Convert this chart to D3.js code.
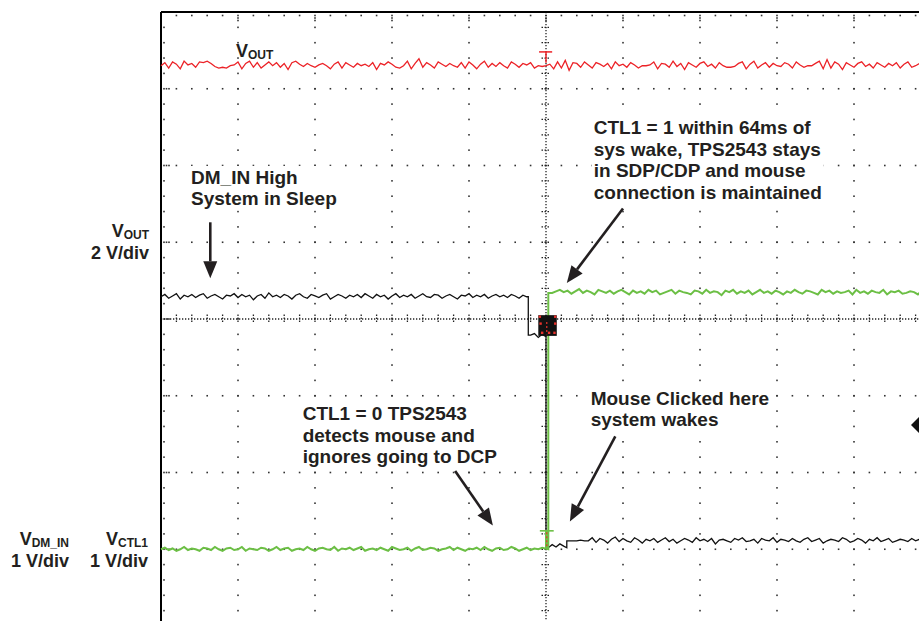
<!DOCTYPE html>
<html>
<head>
<meta charset="utf-8">
<script src="https://cdn.jsdelivr.net/npm/d3@7"></script>
<style>
  body { margin: 0; background: #fff; }
  svg { display: block; font-family: "Liberation Sans", Arial, sans-serif; font-weight: bold; }
</style>
</head>
<body>
<svg id="scope" width="919" height="621"></svg>
<script>
// scope screen in divisions: 10 across, 8 high, centre = 0
var timeDivs = [0, 10];
var voltDivs = [-4, 4];
var sampleStep = 0.05;

// trace levels (divisions) and switching times (divisions)
var voutLevel = 3.30;
var dmHighLevel = 0.29, dmMidLevel = -0.21, dmLowLevel = -2.98, dmWakeLevel = -2.89;
var ctlLowLevel = -3.00, ctlHighLevel = 0.34;
var dmDropTime = 4.77, wakeTime = 5.0, ctlRiseTime = 5.03, dmStepTime = 5.27;

// noise, in 1/100 div
var voutNoise = [
  0,4,-3,5,2,-4,6,1,3,-2,5,4,6,3,-1,-3,-2,-3,0,1,
  5,-4,3,6,-2,4,-3,1,5,0,4,-2,3,-5,4,6,2,-1,3,0,
  -2,1,3,0,-4,2,5,-3,4,1,-2,3,0,2,-1,4,-5,3,1,5,
  2,-2,-3,0,6,-4,3,9,-2,4,1,-3,5,2,-1,3,0,-2,4,-3,
  5,1,-4,2,6,-2,3,-1,4,0,-3,5,2,-2,3,1,4,-3,0,-1,
  0,2,-4,5,-3,7,-6,4,3,-2,5,1,-3,4,2,-1,3,-4,5,0,
  2,-2,4,1,-3,0,0,1,5,-4,3,2,-2,6,-1,3,-5,4,1,-2,
  3,5,-1,2,-3,4,0,-2,-2,-1,3,5,-4,2,6,-3,1,4,-2,3,
  0,-1,4,2,-3,5,1,-2,0,0,3,6,-4,8,-3,5,2,-5,4,1,
  -2,3,5,-1,2,-3,4,1,-2,3,0,4,-3,2,5,-2,0,3,-4,2,
  1,4,-1,3,-2,0
];
var dmHighNoise = [
  0,3,-2,1,4,-3,2,0,3,-1,2,4,-2,1,3,0,-3,2,1,4,
  -1,3,0,2,-4,1,3,-2,5,0,2,-1,3,1,-3,2,4,0,-2,3,
  1,-1,2,4,-3,0,3,1,-2,2,0,3,-1,4,1,-2,3,0,2,-3,
  1,4,-1,2,0,3,-2,1,4,0,-1,3,2,-2,1,3,0,-3,2,1,
  4,-1,2,0,3,-2,1,3,0,2,-1,3,1,-2,2,0
];
var dmMidNoise = [0,2,-3,1,-2];
var dmLowNoise = [0,4,1,5,2];
var dmWakeNoise = [
  0,0,0,1,0,0,4,-2,3,1,-3,2,5,-1,3,0,-2,4,1,-3,
  2,0,3,-2,1,4,-1,2,-3,0,3,1,-2,4,0,2,-1,3,-4,1,
  2,0,-2,3,1,4,-1,0,2,-3,3,1,0,4,-2,2,1,-1,3,0,
  -2,2,4,-1,1,3,-3,0,2,1,-1,4,2,-2,0,3,1,-3,2,0,
  4,-1,1,3,-2,0,2,1,-1,3,0,2,-2,1,3
];
var ctlLowNoise = [
  0,2,-1,1,-2,0,3,-1,1,0,-2,2,1,-1,3,0,-2,1,2,-1,
  0,3,-2,1,0,-1,2,1,-2,0,3,-1,1,2,-2,0,1,-1,3,0,
  -2,1,2,0,-1,3,-2,1,0,2,-1,1,3,-2,0,1,-1,2,0,-2,
  3,1,-1,0,2,-2,1,3,-1,0,2,1,-2,0,1,3,-1,2,0,-2,
  1,0,2,-1,3,0,-2,1,2,-1,0,3,1,-2,0,2,-1,1,0,2
];
var ctlHighNoise = [
  0,2,4,1,3,-1,2,5,0,3,1,-2,4,2,0,3,-1,2,4,1,
  -2,3,0,2,-1,4,1,3,-2,0,2,4,-1,3,1,0,-2,3,2,-1,
  4,0,2,1,-3,3,1,4,-1,2,0,3,-2,1,4,0,2,-1,3,1,
  -2,2,0,4,1,-1,3,2,0,-2,4,1,3,-1,2,0,1,3,-2,4,
  0,2,-1,3,1,0,4,-2,2,1,3,-1,0,2,1,-2,3,0,2,1
];

// annotation texts, anchored in divisions
var noteTexts = [
  ["DM_IN High", "System in Sleep"],
  ["CTL1 = 1 within 64ms of", "sys wake, TPS2543 stays", "in SDP/CDP and mouse", "connection is maintained"],
  ["Mouse Clicked here", "system wakes"],
  ["CTL1 = 0 TPS2543", "detects mouse and", "ignores going to DCP"]
];
var noteAnchors = [[0.39, 1.76], [5.62, 2.41], [5.58, -1.12], [1.84, -1.32]];
// arrows [from, to] in divisions
var arrowPoints = [
  [[0.64, 1.26], [0.64, 0.53]],
  [[6.0, 1.44], [5.27, 0.47]],
  [[5.9, -1.53], [5.31, -2.64]],
  [[3.82, -1.98], [4.31, -2.69]]
];

var svg = d3.select("#scope"),
  width = +svg.attr("width"),
  height = +svg.attr("height");

var x = d3.scaleLinear().domain(timeDivs).range([161, 931]);
var y = d3.scaleLinear().domain(voltDivs).range([626, 12]);

svg.append("rect").attr("width", width).attr("height", height).attr("fill", "#fff");

// ---- graticule ----
var grid = svg.append("g");
var dot = function (cx, cy) {
  grid.append("rect").attr("x", cx - 0.8).attr("y", cy - 0.8)
    .attr("width", 1.6).attr("height", 1.6).attr("fill", "#333");
};
var minorT = d3.range(0, 51).map(function (i) { return i / 5; });
var minorV = d3.range(0, 41).map(function (i) { return -4 + i / 5; });

d3.range(1, 10).filter(function (k) { return k != 5; }).forEach(function (k) {
  minorV.forEach(function (v) { dot(x(k), y(v)); });
});
[-3, -2, -1, 1, 2, 3].forEach(function (v) {
  minorT.forEach(function (t) { dot(x(t), y(v)); });
});
// ticks along the top and left edges
minorT.forEach(function (t, i) {
  dot(x(t), y(4) + 3.5);
  if (i % 5 == 0) { dot(x(t), y(4) + 6); dot(x(t), y(4) + 8.5); }
});
minorV.forEach(function (v, i) {
  dot(x(0) + 3, y(v));
  if (i % 5 == 0) { dot(x(0) + 5.5, y(v)); dot(x(0) + 8, y(v)); }
});
// centre axes: fine dotted line plus little crossing ticks
grid.append("line").attr("x1", x(0)).attr("x2", x(10)).attr("y1", y(0)).attr("y2", y(0))
  .attr("stroke", "#222").attr("stroke-width", 1.3).attr("stroke-dasharray", "1.3,1.7");
grid.append("line").attr("x1", x(5)).attr("x2", x(5)).attr("y1", y(4)).attr("y2", y(-4))
  .attr("stroke", "#222").attr("stroke-width", 1.3).attr("stroke-dasharray", "1.3,1.7");
minorT.forEach(function (t) {
  grid.append("line").attr("x1", x(t)).attr("x2", x(t)).attr("y1", y(0) - 4.5).attr("y2", y(0) + 4.5)
    .attr("stroke", "#222").attr("stroke-width", 1.3).attr("stroke-dasharray", "1.5,1.5");
});
minorV.forEach(function (v) {
  grid.append("line").attr("x1", x(5) - 4.5).attr("x2", x(5) + 4.5).attr("y1", y(v)).attr("y2", y(v))
    .attr("stroke", "#222").attr("stroke-width", 1.3).attr("stroke-dasharray", "1.5,1.5");
});
// frame (top and left visible)
grid.append("line").attr("x1", x(0)).attr("x2", x(10)).attr("y1", y(4)).attr("y2", y(4))
  .attr("stroke", "#000").attr("stroke-width", 2);
grid.append("line").attr("x1", x(0)).attr("x2", x(0)).attr("y1", y(4)).attr("y2", y(-4))
  .attr("stroke", "#000").attr("stroke-width", 2);

// ---- traces ----
var segment = function (t0, level, noise) {
  return noise.map(function (n, i) { return [t0 + i * sampleStep, level + n / 100]; });
};
var voutTrace = segment(0, voutLevel, voutNoise);
var dmTrace = segment(0, dmHighLevel, dmHighNoise)
  .concat([[dmDropTime, dmHighLevel], [dmDropTime, dmMidLevel]])
  .concat(segment(4.8, dmMidLevel, dmMidNoise))
  .concat([[wakeTime, dmMidLevel], [wakeTime, dmLowLevel]])
  .concat(segment(5.03, dmLowLevel, dmLowNoise))
  .concat([[dmStepTime, dmLowLevel], [dmStepTime, dmWakeLevel]])
  .concat(segment(5.3, dmWakeLevel, dmWakeNoise));
var ctlTrace = segment(0, ctlLowLevel, ctlLowNoise)
  .concat([[ctlRiseTime, ctlLowLevel], [ctlRiseTime, ctlHighLevel]])
  .concat(segment(5.08, ctlHighLevel, ctlHighNoise));

var line = d3.line().x(function (d) { return x(d[0]); }).y(function (d) { return y(d[1]); });

svg.append("path").attr("d", line(voutTrace)).attr("fill", "none")
  .attr("stroke", "#ec2227").attr("stroke-width", 1.3);
svg.append("path").attr("d", line(dmTrace)).attr("fill", "none")
  .attr("stroke", "#111").attr("stroke-width", 1.3);
svg.append("path").attr("d", line(ctlTrace)).attr("fill", "none")
  .attr("stroke", "#6cbf45").attr("stroke-width", 2);

// ---- channel / trigger markers ----
var mk = svg.append("g");
// red marker at top
mk.append("line").attr("x1", x(4.91)).attr("x2", x(5.08)).attr("y1", y(3.48)).attr("y2", y(3.48))
  .attr("stroke", "#ec2227").attr("stroke-width", 1.5);
mk.append("line").attr("x1", x(5)).attr("x2", x(5)).attr("y1", y(3.48)).attr("y2", y(3.34))
  .attr("stroke", "#ec2227").attr("stroke-width", 1.5);
// trigger box
mk.append("rect").attr("x", x(4.9)).attr("y", y(0.05)).attr("width", x(5.14) - x(4.9))
  .attr("height", y(-0.22) - y(0.05)).attr("fill", "#111");
[[4.92, 0.03], [5.12, 0.03], [4.95, -0.18], [5.04, -0.18], [5.11, -0.18], [4.93, -0.06], [5.12, -0.06]]
  .forEach(function (p) {
    mk.append("rect").attr("x", x(p[0]) - 1.2).attr("y", y(p[1]) - 1.2)
      .attr("width", 2.4).attr("height", 2.4).attr("fill", "#e8322c");
  });
mk.append("line").attr("x1", x(5.01)).attr("x2", x(5.01)).attr("y1", y(-0.04)).attr("y2", y(-0.2))
  .attr("stroke", "#e8322c").attr("stroke-width", 1.2).attr("stroke-dasharray", "2,2");
// green marker near the bottom
mk.append("line").attr("x1", x(4.92)).attr("x2", x(5.1)).attr("y1", y(-2.76)).attr("y2", y(-2.76))
  .attr("stroke", "#6cbf45").attr("stroke-width", 1.6);
mk.append("rect").attr("x", x(5) - 1).attr("y", y(-2.76)).attr("width", 4)
  .attr("height", y(-3.0) - y(-2.76)).attr("fill", "#6cbf45");
mk.append("line").attr("x1", x(5.01)).attr("x2", x(5.01)).attr("y1", y(-2.78)).attr("y2", y(-2.98))
  .attr("stroke", "#e8322c").attr("stroke-width", 1.2).attr("stroke-dasharray", "2,2");
// ground marker cut at the right edge
mk.append("path")
  .attr("d", "M" + x(9.74) + "," + y(-1.38) + "L" + x(9.88) + "," + y(-1.24) + "L" + x(9.88) + "," + y(-1.52) + "Z")
  .attr("fill", "#111");

// ---- annotations ----
var ann = svg.append("g").attr("fill", "#231f20");
noteTexts.forEach(function (lines, i) {
  var g = ann.append("g");
  var t = g.append("text").attr("font-size", 19)
    .attr("x", x(noteAnchors[i][0])).attr("y", y(noteAnchors[i][1]));
  lines.forEach(function (s, j) {
    t.append("tspan").attr("x", x(noteAnchors[i][0])).attr("dy", j == 0 ? 0 : 21.5).text(s);
  });
  var b = t.node().getBBox();
  g.insert("rect", "text").attr("x", b.x - 2).attr("y", b.y - 1)
    .attr("width", b.width + 4).attr("height", b.height + 2).attr("fill", "#fff");
});

arrowPoints.forEach(function (a) {
  var x0 = x(a[0][0]), y0 = y(a[0][1]), x1 = x(a[1][0]), y1 = y(a[1][1]);
  var ang = Math.atan2(y1 - y0, x1 - x0), len = 17, hw = 7;
  var bx = x1 - len * Math.cos(ang), by = y1 - len * Math.sin(ang);
  ann.append("line").attr("x1", x0).attr("y1", y0).attr("x2", bx).attr("y2", by)
    .attr("stroke", "#231f20").attr("stroke-width", 2.6);
  ann.append("path").attr("d", "M" + x1 + "," + y1 +
      "L" + (bx + hw * Math.sin(ang)) + "," + (by - hw * Math.cos(ang)) +
      "L" + (bx - hw * Math.sin(ang)) + "," + (by + hw * Math.cos(ang)) + "Z");
});

// channel labels
var label = function (px, py, main, sub, anchor) {
  var t = ann.append("text").attr("x", px).attr("y", py).attr("font-size", 18)
    .attr("text-anchor", anchor || "end");
  t.append("tspan").text(main);
  if (sub) t.append("tspan").attr("font-size", 12).attr("dy", 2).text(sub);
};
label(236, 57, "V", "OUT", "start");
label(149, 237, "V", "OUT");
label(149, 259, "2 V/div");
label(69, 545, "V", "DM_IN");
label(69, 567, "1 V/div");
label(148, 545, "V", "CTL1");
label(148, 567, "1 V/div");
</script>
</body>
</html>
